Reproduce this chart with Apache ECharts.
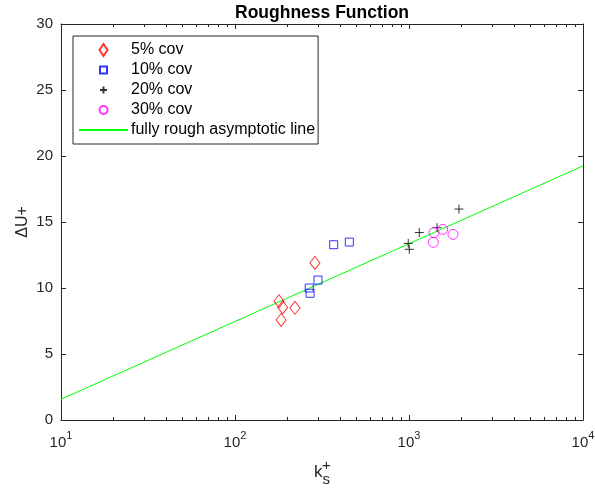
<!DOCTYPE html>
<html>
<head>
    <title>Roughness Function</title>
    <script src="https://cdn.jsdelivr.net/npm/echarts@6.0.0/dist/echarts.min.js"></script>
    <style>
        html, body { margin: 0; padding: 0; background: #fff; }
        #chart { width: 595px; height: 493px; }
    </style>
</head>
<body>
    <div id="chart"></div>
    <script>
        // Datos (k_s+, deltaU+)
        const cov5 = [[288, 11.9], [179, 9.0], [188, 8.53], [221, 8.5], [184, 7.58]];
        const cov10 = [[369, 13.28], [454, 13.48], [300, 10.6], [267, 10.0], [270, 9.6]];
        const cov20 = [[1938, 15.98], [1146, 14.2], [1449, 14.57], [990, 13.38], [1004, 12.93]];
        const cov30 = [[1393, 14.2], [1561, 14.44], [1790, 14.06], [1380, 13.46]];
        const roughLine = [[10, 1.57], [10000, 19.25]];

        const xMinorTicks = [20, 30, 40, 50, 60, 70, 80, 90, 200, 300, 400, 500, 600, 700, 800, 900,
            2000, 3000, 4000, 5000, 6000, 7000, 8000, 9000];
        const seriesNames = ['5% cov', '10% cov', '20% cov', '30% cov', 'fully rough asymptotic line'];

        const font = 'Liberation Sans, Arial, Helvetica, sans-serif';
        const axisColor = '#262626';
        const plusPath = 'path://M0,5L10,5M5,0L5,10';

        // Iconos de la leyenda (con margen invisible para fijar el tamaño)
        const iconos = [
            'path://M0,0M12,12M6,0L10,6L6,12L2,6Z',
            'path://M0,0M12,12M2.5,2.5L9.5,2.5L9.5,9.5L2.5,9.5Z',
            'path://M0,0M12,12M2.5,6L9.5,6M6,2.5L6,9.5',
            'path://M0,0M12,12M2,6A4,4,0,1,1,10,6A4,4,0,1,1,2,6Z'
        ];

        const chart = echarts.init(document.getElementById('chart'));

        function ejeX(posicion, conEtiquetas, ticks, largo) {
            const eje = {
                type: 'log',
                logBase: 10,
                min: 10,
                max: 10000,
                position: posicion,
                axisLine: { show: conEtiquetas, lineStyle: { color: axisColor, width: 1 } },
                axisTick: { show: true, inside: true, length: largo, lineStyle: { color: axisColor } },
                axisLabel: { show: false },
                splitLine: { show: false }
            };
            if (ticks) eje.axisTick.customValues = ticks;
            if (conEtiquetas) {
                eje.axisLabel = {
                    show: posicion === 'bottom',
                    margin: 10,
                    formatter: function (v) {
                        return '{b|10}{s|' + Math.round(Math.log10(v)) + '}';
                    },
                    rich: {
                        b: { fontSize: 15, fontFamily: font, color: axisColor, lineHeight: 26 },
                        s: { fontSize: 11, fontFamily: font, color: axisColor, lineHeight: 11, verticalAlign: 'top' }
                    }
                };
            }
            return eje;
        }

        const ejeXPrincipal = ejeX('bottom', true, null, 5);
        ejeXPrincipal.name = '{k|k}{s|s}';
        ejeXPrincipal.nameLocation = 'middle';
        ejeXPrincipal.nameGap = 37;
        ejeXPrincipal.nameMoveOverlap = false;
        ejeXPrincipal.nameTextStyle = {
            rich: {
                k: { fontSize: 17, fontFamily: font, color: axisColor, lineHeight: 30 },
                s: { fontSize: 15, fontFamily: font, color: axisColor, lineHeight: 12, verticalAlign: 'bottom' }
            }
        };
        const ejeXArriba = ejeX('top', true, null, 5);
        ejeXArriba.axisLine.show = true;

        const opciones = {
            animation: false,
            backgroundColor: '#fff',
            title: {
                text: 'Roughness Function',
                left: 322,
                textAlign: 'center',
                top: 4,
                padding: 0,
                textStyle: { fontSize: 17.5, fontWeight: 'bold', fontFamily: font, color: '#000' }
            },
            grid: { left: 61, right: 12, top: 24, bottom: 73, containLabel: false, outerBoundsMode: 'none' },
            legend: {
                data: [
                    { name: seriesNames[0], icon: iconos[0] },
                    { name: seriesNames[1], icon: iconos[1] },
                    { name: seriesNames[2], icon: iconos[2] },
                    { name: seriesNames[3], icon: iconos[3] },
                    { name: seriesNames[4], itemStyle: { color: 'rgba(0,0,0,0)', borderColor: 'rgba(0,0,0,0)' } }
                ],
                orient: 'vertical',
                left: 73,
                top: 36,
                padding: [4, 3, 4, 5],
                itemWidth: 49,
                itemHeight: 12,
                itemGap: 0,
                symbolKeepAspect: true,
                borderColor: axisColor,
                borderWidth: 1,
                backgroundColor: '#fff',
                textStyle: { fontSize: 16, fontFamily: font, color: '#000', lineHeight: 20, padding: [0, 0, 0, -2] }
            },
            graphic: [{
                type: 'text',
                left: 322,
                top: 458,
                style: { text: '+', fontSize: 15, fontFamily: font, fill: axisColor }
            }],
            xAxis: [
                ejeXPrincipal,
                ejeX('bottom', false, xMinorTicks, 3),
                ejeXArriba,
                ejeX('top', false, xMinorTicks, 3)
            ],
            yAxis: [{
                type: 'value',
                min: 0,
                max: 30,
                interval: 5,
                position: 'left',
                name: '\u0394U+',
                nameLocation: 'middle',
                nameGap: 29,
                nameRotate: 90,
                nameMoveOverlap: false,
                nameTextStyle: { fontSize: 16, fontFamily: font, color: axisColor, lineHeight: 18 },
                axisLine: { show: true, lineStyle: { color: axisColor, width: 1 } },
                axisTick: { inside: true, length: 5, lineStyle: { color: axisColor } },
                axisLabel: { fontSize: 15, fontFamily: font, color: axisColor, margin: 8 },
                splitLine: { show: false }
            }, {
                type: 'value',
                min: 0,
                max: 30,
                interval: 5,
                position: 'right',
                axisLine: { show: true, lineStyle: { color: axisColor, width: 1 } },
                axisTick: { inside: true, length: 5, lineStyle: { color: axisColor } },
                axisLabel: { show: false },
                splitLine: { show: false }
            }],
            series: [{
                name: seriesNames[0],
                type: 'scatter',
                data: cov5,
                symbol: 'diamond',
                symbolSize: [10, 13],
                itemStyle: { color: 'rgba(0,0,0,0)', borderColor: '#ff0000', borderWidth: 1 },
                z: 3
            }, {
                name: seriesNames[1],
                type: 'scatter',
                data: cov10,
                symbol: 'rect',
                symbolSize: 8,
                itemStyle: { color: 'rgba(0,0,0,0)', borderColor: '#0000ff', borderWidth: 1 },
                z: 3
            }, {
                name: seriesNames[2],
                type: 'scatter',
                data: cov20,
                symbol: plusPath,
                symbolSize: 9,
                itemStyle: { color: 'rgba(0,0,0,0)', borderColor: '#000000', borderWidth: 1 },
                z: 3
            }, {
                name: seriesNames[3],
                type: 'scatter',
                data: cov30,
                symbol: 'circle',
                symbolSize: 10,
                itemStyle: { color: 'rgba(0,0,0,0)', borderColor: '#ff00ff', borderWidth: 1 },
                z: 3
            }, {
                name: seriesNames[4],
                type: 'line',
                data: roughLine,
                symbol: 'none',
                lineStyle: { color: '#00ff00', width: 1 },
                itemStyle: { color: '#00ff00' },
                z: 2
            }]
        };

        chart.setOption(opciones);
    </script>
</body>
</html>
